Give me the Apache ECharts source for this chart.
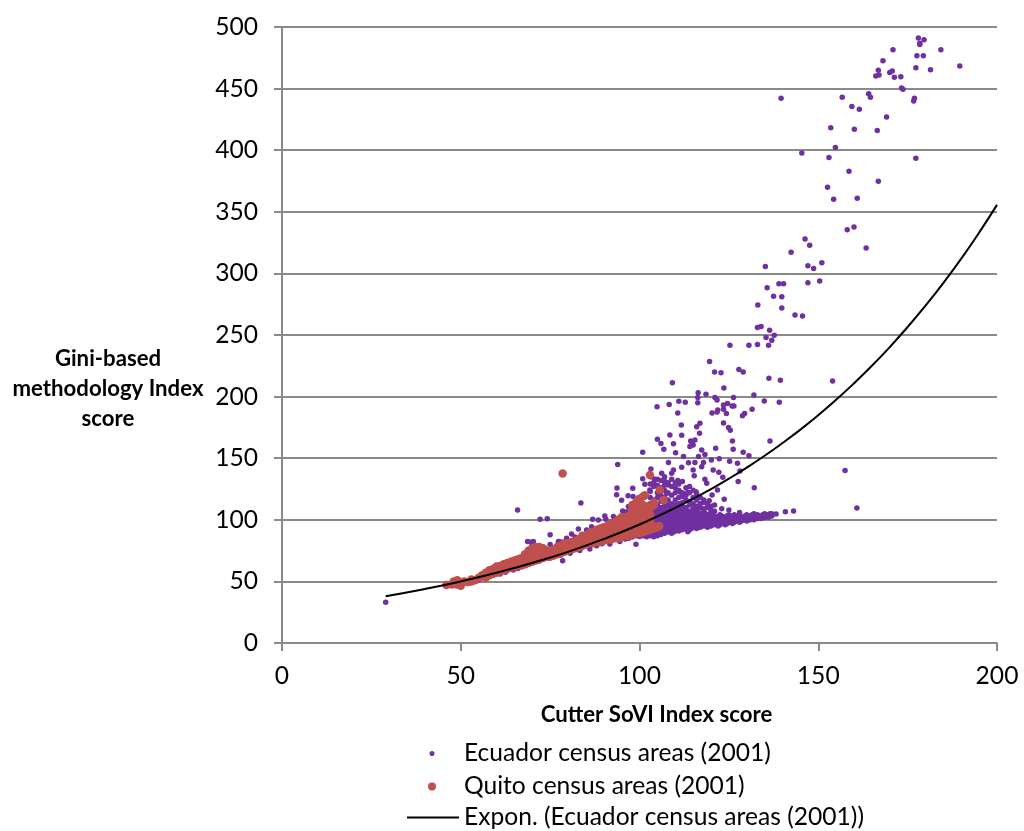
<!DOCTYPE html>
<html><head><meta charset="utf-8">
<style>html,body{margin:0;padding:0;background:#fff}#c{width:1024px;height:831px}</style>
<script src="https://cdn.jsdelivr.net/npm/echarts@6/dist/echarts.min.js"></script>
</head><body><div id="c"></div>
<script>
const ecuadorSparse = [[178,491.1],[179.6,489.7],[178.4,486.8],[178.4,485.7],[170.9,481.6],[184.3,481.6],[168.1,472.7],[177.6,476.7],[179.4,476.7],[189.6,468.4],[177.3,467],[181.4,465.4],[166.8,464.8],[170.7,464.3],[170,463],[166.1,460.2],[167,461],[171.3,459.2],[173.1,459.7],[173.3,450.5],[173.7,449.4],[164.1,445.9],[164.6,442.9],[156.7,442.9],[176.9,442.1],[176.7,440],[139.6,442.1],[159.4,435.4],[161.5,433.2],[169.1,427],[153.5,418.3],[160.1,417],[166.5,415.9],[154.8,402.1],[145.4,397.7],[153,394],[177.3,393.4],[158.6,382.9],[166.8,374.7],[152.6,369.9],[154.3,360.1],[160.9,361],[160,337.7],[158.1,335.5],[163.4,320.6],[146.3,327.9],[147.6,322.8],[142.4,317.1],[151,308.7],[147.1,306.3],[148.7,303.9],[135.2,305.5],[147.1,292.5],[150.4,293.8],[139,291.7],[140.3,291.7],[135.7,288.4],[137.5,281.4],[139.8,281.1],[133.1,274.4],[139.8,271.9],[143.5,266.2],[145.6,265.4],[133,256],[134,256.8],[136.4,253.8],[137.7,249.7],[135.4,247.9],[137,245.7],[125.3,241.6],[130.6,241.6],[133,242.2],[136.1,241.6],[119.6,228.4],[121,220],[122.8,219.4],[127.8,221.9],[129,220],[109.2,211.3],[136.2,214.8],[139.4,213.2],[154,212.7],[123.6,207],[116.4,203.2],[118.6,201.9],[116.3,199.2],[121.1,199.2],[121.7,197.3],[126.3,199.2],[132,201.3],[134.9,196.4],[139.1,195.4],[104.9,191.8],[108.3,193.5],[111,196.2],[112.8,195.4],[116.3,195.1],[123.5,193.2],[124.6,194.3],[125.9,192.4],[126.4,192.4],[123.5,189.7],[121.9,189.1],[121.7,187.5],[120.3,186.7],[110.7,186.7],[124.3,186.2],[131.5,189.7],[129.4,186.2],[128.8,184.5],[111.7,177],[116.9,178.3],[116,175.6],[123.5,178.6],[124.9,175],[125.4,172.6],[116.8,170.2],[108.5,168.8],[111.8,168.6],[105,165.3],[114.3,164],[115.5,164.7],[126,164],[136.5,164],[157.5,140],[160.8,109.5],[29,33]];
const ecuadorMiddle = [[106,162],[109.5,161.8],[114.6,163],[114.1,159.4],[115,160.7],[106.8,157.2],[121.3,158],[117.4,156.7],[126.2,157.2],[129,154.8],[110.1,154.5],[100.9,154.8],[118.3,153.1],[130.6,152],[112.3,151.3],[116.5,151.3],[93.9,144.8],[108.1,146.6],[113.7,146.4],[115.5,146.6],[120.1,148.5],[122.3,149.6],[125.2,147.5],[127.4,145.8],[117.9,146.6],[117.4,143.1],[111.8,142.6],[115,140.4],[109.5,140.4],[120.6,140.4],[122.2,138.5],[128.1,139.6],[115.3,135.8],[109,137.7],[106.2,137.7],[103.2,141.2],[123.3,134.5],[100.9,133.4],[104.1,133.1],[110.7,131.8],[118.3,132.9],[127.6,131],[107.1,131],[118.8,129.6],[101.5,128.8],[108,128.3],[132.1,126.1],[93.7,125.8],[98.1,125.6],[102.9,124.2],[93.6,120.4],[111.3,122.6],[113.5,122.3],[121.8,124.2],[115.8,122.8],[96.8,119.6],[98.2,119],[107.6,121.5],[120.3,120.1],[95,115.8],[123.7,116.6],[119.5,115.5],[83.6,113.6],[65.9,108],[96.9,110.7],[72.2,100.4],[74.2,100.9],[75,87.9],[99,80.1],[78.5,66.8],[143.1,107.2],[140.8,106.6],[138.2,104.7],[68.7,82.3],[70.3,82.3],[69.6,81.7],[77.3,82.3],[79.6,85],[81,88.5],[82.9,92.5],[85.2,91.7],[86.9,100.4],[88.5,99.9],[86.6,94.4],[90.3,103.1],[90.6,100.4],[92.7,102.6],[95.3,107.1],[96.4,106.6],[98.3,108]];
const ecuadorUpperColumns = [[103,[113,118,123,129,135]],[104,[110,116,127,130]],[105,[112,118,122,128,133]],[106,[110,115,120,126,132]],[107,[111,118,124,128,135]],[108,[112,116,122,130]],[109,[110,113,120,127,133]],[110,[112,116,122,126,130]],[111,[113,118,124,129]],[112,[111,114,119,122,131]],[113,[110,116,120,126]],[114,[112,115,122,127]],[115,[109,113,118,124]],[116,[111,116,121]],[117,[110,113,118]],[118,[109,114,116]],[119,[110,113]],[120,[108,111]],[121,[107,112]],[123,[109]],[125,[108]]];
const ecuadorBandColumns = [[55,[51]],[58,[54]],[61,[56]],[62.5,[57.5]],[64.7,[59.3]],[66,[60.5]],[68,[63]],[70.3,[66]],[72,[66.5]],[74,[68.7]],[76,[70]],[78,[71.5]],[80.6,[72.8]],[83.3,[75]],[86.1,[76.3]],[88,[79]],[89.5,[80.5]],[91.7,[80.4]],[94.5,[82.3]],[75,[80]],[78,[82]],[82,[86]],[84,[88]],[88,[92]],[92,[97]],[94,[99]],[96,[84.5,102]],[97,[85,88]],[98,[86,104]],[99,[87,90]],[100,[86.5,89,107]],[101,[87,89,105,108]],[102,[86.3,90,101,106]],[103,[87,90,96,99,103,107]],
[104,[86.3,90,97,100,103,106,108]],[104.5,[88,92,99,102,105]],[105,[87,91,97,100,104,108]],[105.5,[90,94,98,102,106]],[106,[88,92,96,100,104,108]],[106.5,[90,94,98,102,106,108]],[107,[89,93,97,99,103,107]],[107.5,[91,95,101,105]],[108,[90,93,97,101,105,109]],[108.5,[91,95,99,103,107]],[109,[89,92,96,100,104,108]],[109.5,[90,94,98,102,106]],
[110,[91,94,98,102,106,110]],[110.5,[92,96,100,104,108]],[111,[91,93,97,101,105,109]],[111.5,[94,98,102,106]],[112,[92,95,99,103,107]],[112.5,[93,97,101,105,109]],[113,[93,97,101,105,108]],[113.5,[90.4,95,99,103,106]],[114,[92,95,99,103,107]],[114.5,[93,97,101,105]],[115,[94,98,102,106]],[115.5,[95,99,103,107]],[116,[93,96,100,104,108]],[116.5,[94,98,102,106]],
[117,[94,98,102,105]],[117.5,[96,100,104]],[118,[95,99,103,107]],[118.5,[97,101,105]],[119,[94,97,101,104]],[119.5,[95,99,103]],[120,[95,99,103,106]],[120.5,[97,101,104]],[121,[96,100,103]],[121.5,[98,102]],[122,[95,98,102]],[122.5,[96,100,104]],[123,[97,100,103]],[123.5,[98,102]],[124,[96,99,102]],[124.5,[97,100,103]],[125,[98,101,104]],[125.5,[99,102]],[126,[97,100,103]],[126.5,[98,101,104]],[127,[99,102]],[127.5,[100,103]],[128,[98,101,104,106]],[128.5,[99,102]],[129,[100,102]],[129.5,[100,103]],[130,[99,101,104]],[130.5,[100,102]],[131,[100,103]],[131.5,[101,104]],[132,[100,102,105]],[132.5,[101,103]],[133,[101,104]],[133.5,[102]],[134,[101,103]],[134.5,[102,104]],[135,[102,105]],[135.5,[103]],[136,[102,104]],[136.5,[103,105]],[137,[103,105]]];
const quitoColumns = [[46,[47]],[47.5,[47.5]],[48,[50]],[48.8,[47.5]],[49,[51]],[49.5,[50]],[50,[46.5]],[51,[50]],[52,[49.5]],[53,[50,51.5]],[54,[51]],[55,[53]],[56,[54,55]],[57,[53,55,57]],[58,[55,57.5,59]],[59,[56,58,60]],[60,[57,60,62]],[61,[58,60.5,62.5]],[62,[59,62,64]],[63,[60,62.5,65]],[64,[61,64,66]],[65,[62,65,67]],[66,[63,66,68]],[67,[63,66,69]],[68,[64,67,70,72]],[69,[65,69,72,75]],[70,[66,70,74,77]],[71,[67,70,74,78]],[72,[68,71,75,78]],[73,[69,72,75,77]],[74,[70,73,75]],[75,[70,73,75]],[76,[71,74,76]],[77,[72,75,78]],[78,[73,76,79]],[79,[74,76,79,81]],[80,[75,78,81]],[81,[76,79,82]],[82,[77,80,83]],[83,[78,81,84]],[84,[79,82,85,87]],[85,[80,83,86]],[86,[81,84,87,89]],[87,[81,84,87,90]],[88,[82,85,88,92]],[89,[82,85,89,93]],[90,[83,86,90,94]],[91,[84,87,91,95]],[92,[84,88,92,97]],[93,[85,89,93,98]],[94,[85,89,93,98,100]],[95,[86,90,94,98,102]],[96,[87,91,95,99,102]],[97,[87,91,95,99,103]],[98,[88,92,96,100,104,108,112]],[99,[89,93,97,101,105,110,114]],[100,[89,93,97,101,105,110,117]],[101,[90,94,98,102,107,112,119]],[102,[91,95,99,103,108,111]],[103,[92,95,100,104,110]],[104,[93,95,112,114]],[105,[94]],[105.5,[95]],[106.7,[116]],[105.7,[124.2]],[102.9,[136.4]],[78.5,[137.5]],[101.5,[120]]];
const trendX = [29,40,50,60,70,80,90,100,110,120,125,130,135,140,145,150,155,160,165,170,175,180,185,190,195,200];
const trendY = [38,43.9,50,57,65,74,84.4,96.2,109.6,124.9,133.4,142.4,152,162.3,173.2,184.9,197.4,210.8,225,240.2,256.5,273.8,292.3,312,333.1,355.6];
const xTicks = [0,200,50], yTicks = [0,500,50];
const names = ['Ecuador census areas (2001)','Quito census areas (2001)','Expon. (Ecuador census areas (2001))'];
const yTitle = 'Gini-based\nmethodology Index\nscore';
const xTitle = 'Cutter SoVI Index score';
const FONT = 'Lato', FS = 24.6, GRID = '#8a8a8a';
const flat = cols => cols.flatMap(c => c[1].map(y => [c[0], y]));
const legendCommon = {orient:'vertical',itemWidth:52,padding:0,itemGap:0,selectedMode:false};
const legendText = pad => ({fontFamily:FONT,fontSize:FS,color:'#000',padding:[0,0,0,pad]});
const axisCommon = {
  axisLine:{show:true,onZero:false,lineStyle:{color:GRID,width:2}},
  axisTick:{show:true,length:8,lineStyle:{color:GRID,width:2}},
  nameMoveOverlap:false,
  nameTextStyle:{fontFamily:FONT,fontSize:22.2,fontWeight:'bold',color:'#000',lineHeight:30,align:'center'}
};
echarts.init(document.getElementById('c')).setOption({
  animation:false,backgroundColor:'#fff',
  title:{text:yTitle,left:108,top:344,padding:0,textAlign:'center',
    textStyle:{fontFamily:FONT,fontSize:22.2,fontWeight:'bold',color:'#000',lineHeight:30}},
  grid:{left:282,top:27,right:27,bottom:188,outerBoundsMode:'none'},
  legend:[
    Object.assign({},legendCommon,{left:429.5,top:741,itemHeight:5,textStyle:legendText(1),data:[{name:names[0],icon:'circle'}]}),
    Object.assign({},legendCommon,{left:428,top:774,itemHeight:8,textStyle:legendText(1),data:[{name:names[1],icon:'circle'}]}),
    Object.assign({},legendCommon,{left:407,top:805,itemHeight:2,symbolKeepAspect:false,textStyle:legendText(0),data:[{name:names[2],icon:'rect'}]})
  ],
  xAxis:Object.assign({},axisCommon,{type:'value',min:xTicks[0],max:xTicks[1],interval:xTicks[2],splitLine:{show:false},
    axisLabel:{fontFamily:FONT,fontSize:FS,color:'#000',margin:21},
    name:xTitle,nameLocation:'middle',nameGap:53,
    nameTextStyle:Object.assign({},axisCommon.nameTextStyle,{padding:[4,0,0,34]})}),
  yAxis:Object.assign({},axisCommon,{type:'value',min:yTicks[0],max:yTicks[1],interval:yTicks[2],
    splitLine:{show:true,lineStyle:{color:GRID,width:2}},
    axisLabel:{fontFamily:FONT,fontSize:FS,color:'#000',margin:24}}),
  series:[
    {name:names[0],type:'scatter',symbolSize:5.5,itemStyle:{color:'#7030A0',opacity:1},data:ecuadorSparse.concat(ecuadorMiddle,flat(ecuadorUpperColumns),flat(ecuadorBandColumns)),z:2},
    {name:names[1],type:'scatter',symbolSize:8.5,itemStyle:{color:'#C0504D',opacity:1},data:flat(quitoColumns),z:3},
    {name:names[2],type:'line',smooth:true,showSymbol:false,symbol:'none',lineStyle:{color:'#000',width:2},itemStyle:{color:'#000'},
      data:trendX.map((x,i)=>[x,trendY[i]]),z:4}
  ]
});
</script></body></html>
